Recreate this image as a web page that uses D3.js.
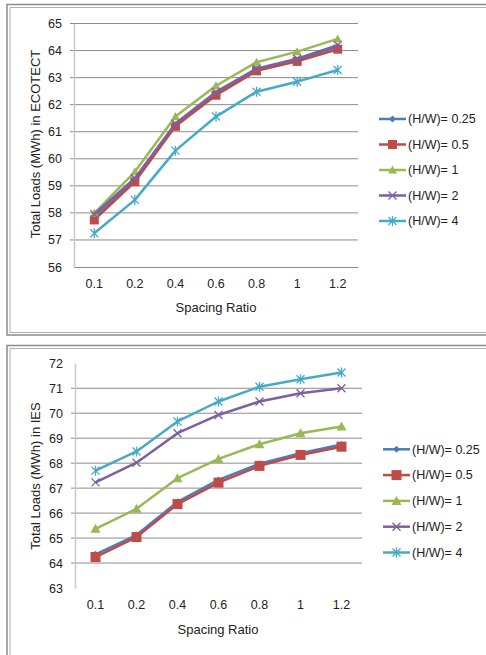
<!DOCTYPE html>
<html>
<head>
<meta charset="utf-8">
<script src="https://cdn.jsdelivr.net/npm/d3@7"></script>
<style>
  body { margin: 0; background: #fff; }
  svg { display: block; font-family: "Liberation Sans", Arial, sans-serif; }
</style>
</head>
<body>
<svg id="chart" width="486" height="655"></svg>
<script>
// spacing ratio categories
const categories = ["0.1", "0.2", "0.4", "0.6", "0.8", "1", "1.2"];
const seriesNames = ["(H/W)= 0.25", "(H/W)= 0.5", "(H/W)= 1", "(H/W)= 2", "(H/W)= 4"];

// ECOTECT values (top chart)
const ecoHW025 = [57.85, 59.2, 61.25, 62.4, 63.3, 63.65, 64.15];
const ecoHW05  = [57.74, 59.15, 61.2, 62.35, 63.25, 63.6, 64.05];
const ecoHW1   = [57.99, 59.52, 61.56, 62.7, 63.57, 63.96, 64.43];
const ecoHW2   = [57.95, 59.28, 61.3, 62.47, 63.33, 63.7, 64.2];
const ecoHW4   = [57.25, 58.48, 60.3, 61.56, 62.48, 62.85, 63.28];

// IES values (bottom chart)
const iesHW025 = [64.35, 65.12, 66.45, 67.33, 67.98, 68.4, 68.75];
const iesHW05  = [64.24, 65.04, 66.36, 67.22, 67.89, 68.33, 68.66];
const iesHW1   = [65.37, 66.17, 67.4, 68.17, 68.76, 69.2, 69.47];
const iesHW2   = [67.23, 68.02, 69.2, 69.93, 70.47, 70.8, 71.0];
const iesHW4   = [67.7, 68.47, 69.67, 70.47, 71.06, 71.36, 71.63];

const ecoTicks = [56, 57, 58, 59, 60, 61, 62, 63, 64, 65];
const iesTicks = [63, 64, 65, 66, 67, 68, 69, 70, 71, 72];

const colors = ["#4a7ebb", "#be4b48", "#98b954", "#7d60a0", "#46aac5"];
const markers = ["diamond", "square", "triangle", "cross", "star"];

const svg = d3.select("#chart");

// double grey frames around each chart
function drawFrame(y0, y1) {
    svg.append("path")
        .attr("d", `M497,${y0} H7 V${y1} H497`)
        .attr("fill", "none").attr("stroke", "#8a8a8a").attr("stroke-width", 1.5);
    svg.append("path")
        .attr("d", `M497,${y0 + 3} H10 V${y1 - 2.5} H497`)
        .attr("fill", "none").attr("stroke", "#b0b0b0").attr("stroke-width", 1);
}
drawFrame(4.5, 335);
drawFrame(345.5, 700);

function drawMarker(g, type, color, size) {
    const s = size / 2;
    if (type === "diamond") {
        g.append("path").attr("d", `M0,${-s} L${s},0 L0,${s} L${-s},0 Z`).attr("fill", color);
    } else if (type === "square") {
        g.append("rect").attr("x", -s).attr("y", -s).attr("width", size).attr("height", size).attr("fill", color);
    } else if (type === "triangle") {
        g.append("path").attr("d", `M0,${-s} L${s},${s * 0.8} L${-s},${s * 0.8} Z`).attr("fill", color);
    } else if (type === "cross") {
        g.append("path").attr("d", `M${-s},${-s} L${s},${s} M${-s},${s} L${s},${-s}`)
            .attr("stroke", color).attr("stroke-width", 1.3);
    } else if (type === "star") {
        g.append("path").attr("d", `M${-s},${-s} L${s},${s} M${-s},${s} L${s},${-s} M0,${-s - 1} L0,${s + 1}`)
            .attr("stroke", color).attr("stroke-width", 1.3);
    }
}

function drawChart(cfg) {
    const x = d3.scaleBand().domain(categories).range([cfg.left, cfg.right]);
    const y = d3.scaleLinear().domain([cfg.ticks[0], cfg.ticks[cfg.ticks.length - 1]])
        .range([cfg.bottom, cfg.top]);

    const g = svg.append("g");

    // gridlines
    g.selectAll(".grid").data(cfg.gridTicks).enter().append("line")
        .attr("x1", cfg.left - 4).attr("x2", cfg.right)
        .attr("y1", d => y(d)).attr("y2", d => y(d))
        .attr("stroke", "#8c8c8c").attr("stroke-width", 1);

    // y axis
    const yAxis = d3.axisLeft(y).tickValues(cfg.ticks).tickSize(0).tickPadding(12);
    const ya = g.append("g").attr("transform", `translate(${cfg.left},0)`).call(yAxis);
    ya.select(".domain").attr("stroke", "#c8c8c8").attr("stroke-width", 1.5);
    ya.selectAll("text").attr("font-size", 12.5).attr("fill", "#222").attr("font-family", null);

    // x axis labels
    const xAxis = d3.axisBottom(x).tickSize(0).tickPadding(12);
    const xa = g.append("g").attr("transform", `translate(0,${y(cfg.ticks[0])})`).call(xAxis);
    xa.select(".domain").attr("stroke", cfg.showBase ? "#8c8c8c" : "none");
    xa.selectAll("text").attr("font-size", 12.5).attr("fill", "#222").attr("font-family", null);

    // axis titles
    g.append("text").attr("x", cfg.xTitle[0]).attr("y", cfg.xTitle[1])
        .attr("text-anchor", "middle").attr("font-size", 13).attr("fill", "#222")
        .text("Spacing Ratio");
    g.append("text")
        .attr("transform", `translate(${cfg.yTitle[0]},${cfg.yTitle[1]}) rotate(-90)`)
        .attr("text-anchor", "middle").attr("font-size", 13).attr("fill", "#222")
        .text(cfg.yLabel);

    const line = d3.line()
        .x((d, i) => x(categories[i]) + x.bandwidth() / 2)
        .y(d => y(d));

    cfg.series.forEach((vals, si) => {
        g.append("path").datum(vals)
            .attr("d", line)
            .attr("fill", "none")
            .attr("stroke", colors[si])
            .attr("stroke-width", 2.5)
            .attr("stroke-linejoin", "round");
        vals.forEach((v, i) => {
            const mg = g.append("g")
                .attr("transform", `translate(${x(categories[i]) + x.bandwidth() / 2},${y(v)})`);
            drawMarker(mg, markers[si], colors[si], cfg.markerSizes[si]);
        });
    });

    // legend
    seriesNames.forEach((name, si) => {
        const ly = cfg.legend[1] + si * cfg.legendStep;
        const lg = g.append("g");
        lg.append("line")
            .attr("x1", cfg.legend[0]).attr("x2", cfg.legend[0] + 27)
            .attr("y1", ly).attr("y2", ly)
            .attr("stroke", colors[si]).attr("stroke-width", 2.5);
        const mg = lg.append("g").attr("transform", `translate(${cfg.legend[0] + 13.5},${ly})`);
        drawMarker(mg, markers[si], colors[si], cfg.markerSizes[si]);
        lg.append("text")
            .attr("x", cfg.legend[0] + 29).attr("y", ly)
            .attr("dy", "0.35em").attr("font-size", 12.5).attr("fill", "#222")
            .text(name);
    });
}

drawChart({
    left: 74, right: 358, top: 23.5, bottom: 267,
    ticks: ecoTicks, gridTicks: ecoTicks.slice(1), showBase: true,
    series: [ecoHW025, ecoHW05, ecoHW1, ecoHW2, ecoHW4],
    xTitle: [216, 312], yTitle: [40, 144],
    yLabel: "Total Loads (MWh) in ECOTECT",
    markerSizes: [7, 9, 9, 8, 8],
    legend: [379, 119], legendStep: 25.5
});

drawChart({
    left: 75, right: 362, top: 363.3, bottom: 588,
    ticks: iesTicks, gridTicks: iesTicks.slice(1, -1), showBase: false,
    series: [iesHW025, iesHW05, iesHW1, iesHW2, iesHW4],
    xTitle: [218, 634], yTitle: [40, 476],
    yLabel: "Total Loads (MWh) in IES",
    markerSizes: [7, 10, 10, 8, 8],
    legend: [383, 449.3], legendStep: 25.8
});
</script>
</body>
</html>
